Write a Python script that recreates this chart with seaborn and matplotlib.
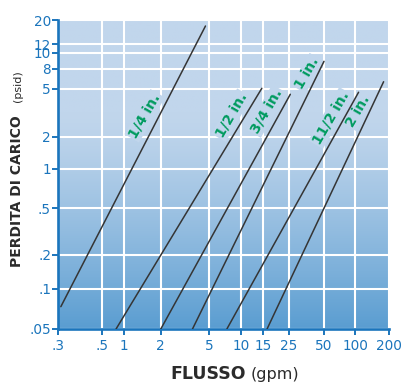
import numpy as np
import pandas as pd
import seaborn as sns
import matplotlib.pyplot as plt

# pipe sizes and the two end points of each pressure-drop line
sizes = ["1/4 in.", "1/2 in.", "3/4 in.", "1 in.", "11/2 in.", "2 in."]
flow_lo = [0.31, 0.777, 2.0, 3.66, 7.36, 16.3]
drop_lo = [0.0734, 0.05, 0.05, 0.05, 0.05, 0.05]
flow_hi = [4.69, 14.7, 25.9, 50.5, 107, 179]
drop_hi = [17.6, 5.08, 4.52, 8.9, 4.7, 5.93]

x_ticks = [0.3, 0.5, 1, 2, 5, 10, 15, 25, 50, 100, 200]
x_labels = [".3", ".5", "1", "2", "5", "10", "15", "25", "50", "100", "200"]
y_ticks = [0.05, 0.1, 0.2, 0.5, 1, 2, 5, 8, 10, 12, 20]
y_labels = [".05", ".1", ".2", ".5", "1", "2", "5", "8", "10", "12", "20"]

# the printed chart is not a clean log grid: tick spacing (px) as drawn
x_tick_px = [0, 44, 66, 102.7, 150.7, 183, 204.7, 230.3, 265.3, 297, 330.7]
y_tick_px = [0, 40.3, 74, 121, 160, 192, 240, 260, 276, 285, 309]

BLUE = "#1b75bc"
GREEN = "#009b5f"
TOP = np.array([193, 214, 236]) / 255
BOT = np.array([90, 157, 209]) / 255


def nomo_scale(vals, px):
    lv = np.log10(vals)
    s0 = (px[1] - px[0]) / (lv[1] - lv[0])
    s1 = (px[-1] - px[-2]) / (lv[-1] - lv[-2])
    lv_e = np.r_[lv[0] - 10, lv, lv[-1] + 10]
    px_e = np.r_[px[0] - 10 * s0, px, px[-1] + 10 * s1]

    def fwd(v):
        v = np.asarray(v, float)
        l = np.log10(np.where(v > 0, v, 1e-12))
        return np.interp(l, lv_e, px_e)

    def inv(p):
        return 10 ** np.interp(np.asarray(p, float), px_e, lv_e)

    return fwd, inv


def shade(t):
    # t = 0 at top of plot, 1 at bottom
    f = np.clip((t - 0.3) / 0.7, 0, 1) ** 1.3
    return TOP * (1 - f) + BOT * f


df = pd.DataFrame({
    "flow": flow_lo + flow_hi,
    "drop": drop_lo + drop_hi,
    "size": sizes + sizes,
})

sns.set_theme(style="white")
plt.rcParams["font.family"] = ["DejaVu Sans"]

fig = plt.figure(figsize=(4.09, 3.82), dpi=100)
pos = [58 / 409, 1 - 329 / 382, 331 / 409, 309 / 382]

# background gradient
bg = fig.add_axes(pos, zorder=0)
t = np.linspace(0, 1, 256)
grad = np.stack([shade(v) for v in t])[:, None, :].repeat(2, axis=1)
bg.imshow(grad, aspect="auto", extent=[0, 1, 0, 1])
bg.axis("off")

ax = fig.add_axes(pos, zorder=1)
ax.patch.set_alpha(0)
ax.set_xscale("function", functions=nomo_scale(x_ticks, x_tick_px))
ax.set_yscale("function", functions=nomo_scale(y_ticks, y_tick_px))

sns.lineplot(data=df, x="flow", y="drop", units="size", estimator=None,
             sort=False, color="#353535", lw=1.1, zorder=3, legend=False, ax=ax)

ax.set_xlim(0.3, 200)
ax.set_ylim(0.05, 20)
ax.set_xticks(x_ticks, x_labels)
ax.set_yticks(y_ticks, y_labels)
ax.minorticks_off()
ax.grid(True, color="white", lw=1.5, zorder=1)
ax.set_axisbelow(True)
ax.set_xlabel("")
ax.set_ylabel("")

for side in ["top", "right"]:
    ax.spines[side].set_visible(False)
for side in ["left", "bottom"]:
    ax.spines[side].set_color(BLUE)
    ax.spines[side].set_linewidth(1.9)
ax.tick_params(axis="both", direction="out", length=4, width=1.4,
               color=BLUE, labelcolor=BLUE, labelsize=9.8)
ax.tick_params(axis="x", pad=3, bottom=True)
ax.tick_params(axis="y", pad=1, left=True)

# size labels
label_pos = [(0.262, 0.690), (0.524, 0.692), (0.630, 0.705),
             (0.754, 0.828), (0.825, 0.683), (0.907, 0.706)]
for name, (lx, ly) in zip(sizes, label_pos):
    ax.text(lx, ly, name, transform=ax.transAxes, rotation=60,
            ha="center", va="center", color=GREEN, fontsize=10,
            fontweight="bold", zorder=2,
            bbox=dict(boxstyle="square,pad=0.1", fc=shade(1 - ly), ec="none"))

fig.text(170 / 409, 3 / 382, "FLUSSO", ha="left", va="baseline",
         fontsize=12.5, fontweight="bold", color="#2b2b2b")
fig.text(251 / 409, 3 / 382, "(gpm)", ha="left", va="baseline",
         fontsize=11.5, color="#2b2b2b")
fig.text(21 / 409, 1 - 267 / 382, "PERDITA DI CARICO", rotation=90,
         rotation_mode="anchor", ha="left", va="baseline",
         fontsize=10, fontweight="bold", color="#2b2b2b")
fig.text(21 / 409, 1 - 102 / 382, "(psid)", rotation=90,
         rotation_mode="anchor", ha="left", va="baseline",
         fontsize=8, color="#2b2b2b")

fig.savefig("out.png", dpi=100)
